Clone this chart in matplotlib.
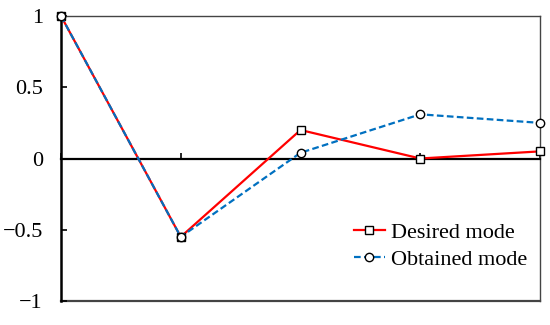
import matplotlib.pyplot as plt

plt.rcParams['font.family'] = ['Liberation Serif', 'DejaVu Serif']

x = [1, 2, 3, 4, 5]
desired = [1.0, -0.55, 0.20, 0.0, 0.05]
obtained = [1.0, -0.55, 0.04, 0.31, 0.25]
yticks = [-1, -0.5, 0, 0.5, 1]
ylabels = ['\u22121', '\u22120.5', '0', '0.5', '1']

fig = plt.figure(figsize=(5.5, 3.25), dpi=100)
ax = fig.add_axes([61/550, 1 - 301/325, (540-61)/550, (301-16)/325])

ax.plot(x, desired, color='#FF0000', lw=1.6, marker='s', ms=6,
        mfc='white', mec='black', mew=1, label='Desired mode', clip_on=False, zorder=3)
ax.plot(x, obtained, color='#0070C0', lw=1.6, ls=(0, (3, 1.5)), marker='o', ms=6,
        mfc='white', mec='black', mew=1, label='Obtained mode', clip_on=False, zorder=3)

ax.set_xlim(1, 5)
ax.set_ylim(-1, 1)

# zero line acts as x axis
ax.spines['bottom'].set_position(('data', 0))
ax.spines['bottom'].set_linewidth(1.6)
ax.spines['left'].set_linewidth(1.8)
ax.spines['top'].set_color('#444444')
ax.spines['top'].set_linewidth(1.0)
ax.spines['right'].set_color('#444444')
ax.spines['right'].set_linewidth(1.0)
ax.axhline(-1, color='#444444', lw=1.6, clip_on=False, zorder=1)

ax.set_xticks(x)
ax.set_xticklabels([])
ax.tick_params(axis='x', direction='in', length=4, width=1.2)
ax.set_yticks(yticks)
ax.set_yticklabels(ylabels, fontsize=16)
ax.tick_params(axis='y', direction='in', length=4, width=1.2, pad=13)

ax.legend(loc='lower right', bbox_to_anchor=(1.005, 0.055), frameon=False,
          fontsize=16, handlelength=1.4, handletextpad=0.25, labelspacing=0.3,
          borderaxespad=0.3)

fig.savefig('out.png', dpi=100)
